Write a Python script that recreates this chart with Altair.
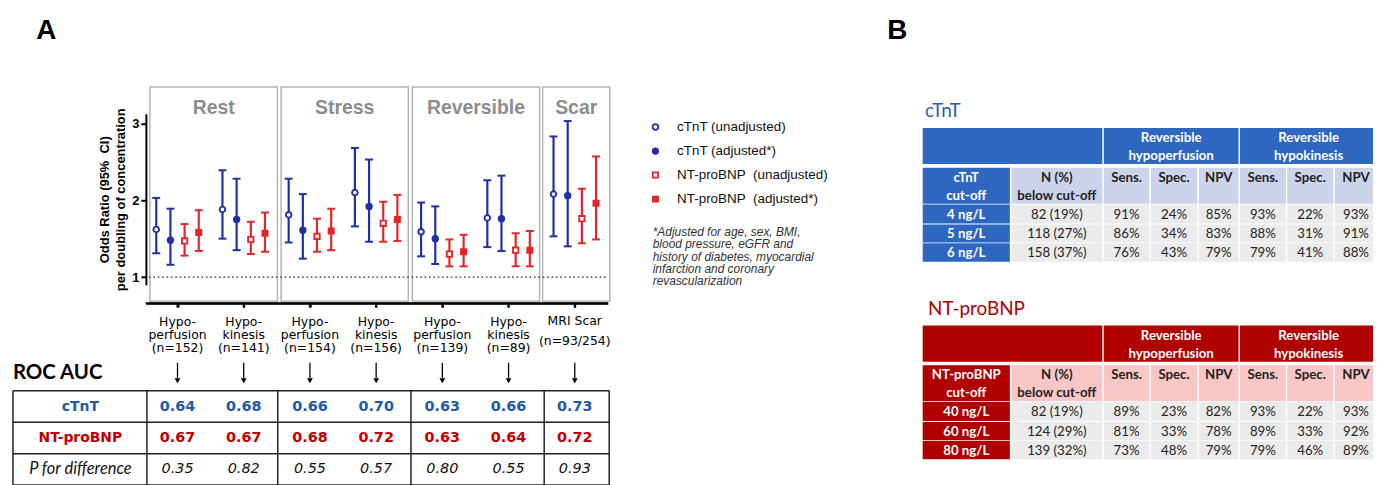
import altair as alt
import pandas as pd

# ---------------- data ----------------
group_labels = ["Hypo-\nperfusion\n(n=152)", "Hypo-\nkinesis\n(n=141)",
                "Hypo-\nperfusion\n(n=154)", "Hypo-\nkinesis\n(n=156)",
                "Hypo-\nperfusion\n(n=139)", "Hypo-\nkinesis\n(n=89)"]
scar_lines = ["MRI Scar", "(n=93/254)"]
panel_names = ["Rest", "Stress", "Reversible", "Scar"]
series_names = ["cTnT (unadjusted)", "cTnT (adjusted*)",
                "NT-proBNP\u00a0 (unadjusted)", "NT-proBNP\u00a0 (adjusted*)"]

ctnt_unadj_or = [1.62, 1.88, 1.81, 2.10, 1.59, 1.77, 2.08]
ctnt_unadj_lo = [1.31, 1.50, 1.45, 1.66, 1.27, 1.39, 1.53]
ctnt_unadj_hi = [2.03, 2.39, 2.28, 2.68, 1.97, 2.26, 2.83]
ctnt_adj_or = [1.48, 1.75, 1.61, 1.92, 1.50, 1.76, 2.06]
ctnt_adj_lo = [1.16, 1.35, 1.24, 1.46, 1.17, 1.34, 1.40]
ctnt_adj_hi = [1.89, 2.28, 2.08, 2.53, 1.92, 2.32, 3.03]
nt_unadj_or = [1.47, 1.49, 1.53, 1.70, 1.30, 1.35, 1.76]
nt_unadj_lo = [1.28, 1.30, 1.33, 1.46, 1.14, 1.14, 1.44]
nt_unadj_hi = [1.69, 1.72, 1.76, 1.98, 1.49, 1.57, 2.15]
nt_adj_or = [1.58, 1.57, 1.60, 1.75, 1.33, 1.35, 1.96]
nt_adj_lo = [1.34, 1.33, 1.35, 1.47, 1.14, 1.14, 1.49]
nt_adj_hi = [1.87, 1.84, 1.89, 2.07, 1.55, 1.60, 2.57]

roc_row_labels = ["cTnT", "NT-proBNP", "P for difference"]
roc_ctnt = [0.64, 0.68, 0.66, 0.70, 0.63, 0.66, 0.73]
roc_nt = [0.67, 0.67, 0.68, 0.72, 0.63, 0.64, 0.72]
roc_p = [0.35, 0.82, 0.55, 0.57, 0.80, 0.55, 0.93]

footnote = ("*Adjusted for age, sex, BMI,\nblood pressure, eGFR and\n"
            "history of diabetes, myocardial\ninfarction and coronary\nrevascularization")

tbl_groups = ["Reversible\nhypoperfusion", "Reversible\nhypokinesis"]
tbl_metrics = ["Sens.", "Spec.", "NPV"]
tbl_below_head = "N (%)\nbelow cut-off"

ctnt_cut_head = "cTnT\ncut-off"
ctnt_cutoffs = ["4 ng/L", "5 ng/L", "6 ng/L"]
ctnt_below = ["82 (19%)", "118 (27%)", "158 (37%)"]
ctnt_perf_sens = [91, 86, 76]
ctnt_perf_spec = [24, 34, 43]
ctnt_perf_npv = [85, 83, 79]
ctnt_kin_sens = [93, 88, 79]
ctnt_kin_spec = [22, 31, 41]
ctnt_kin_npv = [93, 91, 88]

nt_cut_head = "NT-proBNP\ncut-off"
nt_cutoffs = ["40 ng/L", "60 ng/L", "80 ng/L"]
nt_below = ["82 (19%)", "124 (29%)", "139 (32%)"]
nt_perf_sens = [89, 81, 73]
nt_perf_spec = [23, 33, 48]
nt_perf_npv = [82, 78, 79]
nt_kin_sens = [93, 89, 79]
nt_kin_spec = [22, 33, 46]
nt_kin_npv = [93, 92, 89]

# ---------------- layout / style ----------------
W, H = 1373, 477
def px(v):
    return v - 8
def py(v):
    return v - 8

BLUE = "#1f30a8"
RED = "#e2262a"
ROC_BLUE = "#2458a8"
ROC_RED = "#c00000"

U, G0 = 66.6, 178.5          # group spacing and first group centre (page px)
offsets = [-0.321, -0.107, 0.107, 0.321]
panel_edges = [(-0.417, 1.509), (1.565, 3.486), (3.547, 5.468), (5.514, 6.529)]
roc_vedges = [-2.485, -0.462, 1.514, 3.526, 5.538, 6.52]
XAXIS_Y = 303.5

xs = alt.Scale(domain=[-0.48, 6.5], range=[px(G0 - 0.48 * U), px(G0 + 6.5 * U)], nice=False, zero=False)
ys = alt.Scale(domain=[0.9, 3.125], range=[py(285.0), py(113.0)], nice=False, zero=False)

xax = alt.Axis(values=list(range(7)), labels=False, title=None, tickSize=4, tickWidth=2,
               tickColor="black", domainColor="black", domainWidth=2, grid=False,
               offset=py(XAXIS_Y) - H, zindex=1)
yax = alt.Axis(values=[1, 2, 3], title=["Odds Ratio (95%\u00a0 CI)", "per doubling of concentration"],
               titleFont="Liberation Sans", titleFontSize=13, titleFontWeight="bold", titleColor="black",
               titlePadding=4, titleLineHeight=16.5,
               labelFont="Liberation Sans", labelFontSize=13, labelFontWeight="bold", labelColor="black",
               labelPadding=2, tickSize=5, tickWidth=2, tickColor="black",
               domainColor="black", domainWidth=2, grid=False, offset=-px(146.7))

def X(f):
    return alt.X(f, type="quantitative", scale=xs, axis=xax)
def Y(f):
    return alt.Y(f, type="quantitative", scale=ys, axis=yax)

# ---------------- forest plot ----------------
series_vals = [
    (ctnt_unadj_or, ctnt_unadj_lo, ctnt_unadj_hi, BLUE),
    (ctnt_adj_or, ctnt_adj_lo, ctnt_adj_hi, BLUE),
    (nt_unadj_or, nt_unadj_lo, nt_unadj_hi, RED),
    (nt_adj_or, nt_adj_lo, nt_adj_hi, RED),
]
rows = []
for g in range(7):
    for si, (orv, lo, hi, col) in enumerate(series_vals):
        rows.append(dict(pos=g + offsets[si], series=series_names[si], OR=orv[g], lo=lo[g], hi=hi[g], col=col))
fdf = pd.DataFrame(rows)

frames_df = pd.DataFrame({"panel": panel_names,
                          "x0": [e[0] for e in panel_edges],
                          "x1": [e[1] for e in panel_edges]})
frames_df["xc"] = (frames_df["x0"] + frames_df["x1"]) / 2

frames = alt.Chart(frames_df).mark_rect(fill="white", fillOpacity=0, stroke="#b4b4b4", strokeWidth=1.5).encode(
    x=X("x0"), x2=alt.X2("x1"), y=alt.value(py(86)), y2=alt.value(py(301.5)))
frame_titles = alt.Chart(frames_df).mark_text(font="Liberation Sans", fontSize=19.5, fontWeight="bold",
                                              color="#8c8c8c", baseline="alphabetic", align="center").encode(
    x=X("xc"), y=alt.value(py(113.5)), text="panel:N")

ref_df = pd.DataFrame({"a": [-0.43], "b": [6.5], "one": [1.0]})
refline = alt.Chart(ref_df).mark_rule(color="#222", strokeWidth=1.4, strokeDash=[1.6, 2.8]).encode(
    x=X("a"), x2=alt.X2("b"), y=Y("one"))

# x-axis baseline and group ticks (drawn through the x scale)
xbase = alt.Chart(pd.DataFrame({"a": [-0.48], "b": [6.5]})).mark_rule(color="black", strokeWidth=2).encode(
    x=X("a"), x2=alt.X2("b"), y=alt.value(py(XAXIS_Y)))
xticks = alt.Chart(pd.DataFrame({"g": list(range(7))})).mark_rule(color="black", strokeWidth=2).encode(
    x=X("g"), y=alt.value(py(XAXIS_Y)), y2=alt.value(py(XAXIS_Y + 4.5)))

whisk = alt.Chart(fdf).mark_rule(strokeWidth=2.2, opacity=1).encode(
    x=X("pos"), y=Y("lo"), y2=alt.Y2("hi"), color=alt.Color("col:N", scale=None))
cap_hi = alt.Chart(fdf).mark_tick(orient="horizontal", size=8, thickness=2, opacity=1).encode(
    x=X("pos"), y=Y("hi"), color=alt.Color("col:N", scale=None))
cap_lo = alt.Chart(fdf).mark_tick(orient="horizontal", size=8, thickness=2, opacity=1).encode(
    x=X("pos"), y=Y("lo"), color=alt.Color("col:N", scale=None))

leg = alt.Legend(orient="none", legendX=644.5, legendY=111.5, title=None, direction="vertical",
                 labelFont="Liberation Sans", labelFontSize=13.5, labelColor="#111", labelOffset=15,
                 rowPadding=9.2, symbolStrokeWidth=1.8, padding=0, labelLimit=300)
points = alt.Chart(fdf).mark_point(opacity=1, fillOpacity=1, strokeWidth=1.9).encode(
    x=X("pos"), y=Y("OR"),
    shape=alt.Shape("series:N", scale=alt.Scale(domain=series_names, range=["circle", "circle", "square", "square"]), legend=leg),
    fill=alt.Fill("series:N", scale=alt.Scale(domain=series_names, range=["white", BLUE, "white", RED]), legend=leg),
    stroke=alt.Stroke("series:N", scale=alt.Scale(domain=series_names, range=[BLUE, BLUE, RED, RED]), legend=leg),
    size=alt.Size("series:N", scale=alt.Scale(domain=series_names, range=[32, 27, 44, 30]), legend=leg),
)

# multi-line texts: y is the centre of the first line
cat_df = pd.DataFrame({"g": list(range(6)), "label": group_labels})
cat_text = alt.Chart(cat_df).mark_text(font="DejaVu Sans", fontSize=12.5, lineBreak="\n", lineHeight=13.3,
                                       baseline="middle", align="center", color="#000").encode(
    x=X("g"), y=alt.value(py(322.5)), text="label:N")
scar1 = alt.Chart(pd.DataFrame({"g": [6], "t": [scar_lines[0]]})).mark_text(
    font="DejaVu Sans", fontSize=12.5, baseline="middle", align="center", color="#000").encode(
    x=X("g"), y=alt.value(py(321)), text="t:N")
scar2 = alt.Chart(pd.DataFrame({"g": [6], "t": [scar_lines[1]]})).mark_text(
    font="DejaVu Sans", fontSize=12.5, baseline="middle", align="center", color="#000").encode(
    x=X("g"), y=alt.value(py(342)), text="t:N")

arr_df = pd.DataFrame({"g": list(range(7))})
arr_line = alt.Chart(arr_df).mark_rule(color="black", strokeWidth=1.3).encode(
    x=X("g"), y=alt.value(py(363.5)), y2=alt.value(py(379)))
arr_head = alt.Chart(arr_df).mark_point(shape="triangle-down", filled=True, size=34, color="black", opacity=1).encode(
    x=X("g"), y=alt.value(py(381.5)))

forest = alt.layer(frames, frame_titles, refline, xbase, xticks, whisk, cap_hi, cap_lo, points,
                   cat_text, scar1, scar2, arr_line, arr_head)

# ---------------- ROC AUC table ----------------
ROW_H = 31.6
ry = alt.Scale(domain=[0, 3], range=[py(391.7), py(391.7 + 3 * ROW_H)], nice=False, zero=False)
RX = lambda f: alt.X(f, type="quantitative", scale=xs, axis=None)
RY = lambda f: alt.Y(f, type="quantitative", scale=ry, axis=None)

hl = alt.Chart(pd.DataFrame({"r": [0, 1, 2, 3]})).mark_rule(color="#222", strokeWidth=1.5).encode(
    y=RY("r"), x=alt.value(px(13)), x2=alt.value(px(612.7)))
vl = alt.Chart(pd.DataFrame({"e": roc_vedges, "r0": 0, "r1": 3})).mark_rule(color="#222", strokeWidth=1.5).encode(
    x=RX("e"), y=RY("r0"), y2=alt.Y2("r1"))
roc_rows = []
for g in range(7):
    roc_rows.append(dict(g=g, r=0.5, t=f"{roc_ctnt[g]:.2f}", c=ROC_BLUE))
    roc_rows.append(dict(g=g, r=1.5, t=f"{roc_nt[g]:.2f}", c=ROC_RED))
roc_df = pd.DataFrame(roc_rows)
roc_vals = alt.Chart(roc_df).mark_text(font="DejaVu Sans", fontSize=14.5, fontWeight="bold",
                                       baseline="middle", align="center").encode(
    x=RX("g"), y=RY("r"), text="t:N", color=alt.Color("c:N", scale=None))
p_df = pd.DataFrame({"g": list(range(7)), "r": 2.5, "t": [f"{v:.2f}" for v in roc_p]})
roc_p_txt = alt.Chart(p_df).mark_text(font="DejaVu Sans", fontSize=14.5, fontStyle="italic",
                                      baseline="middle", align="center", color="#111").encode(
    x=RX("g"), y=RY("r"), text="t:N")
lab_df = pd.DataFrame({"r": [0.5, 1.5], "t": roc_row_labels[:2], "c": [ROC_BLUE, ROC_RED]})
roc_labs = alt.Chart(lab_df).mark_text(font="DejaVu Sans", fontSize=14, fontWeight="bold",
                                       baseline="middle", align="center").encode(
    x=alt.value(px(80.8)), y=RY("r"), text="t:N", color=alt.Color("c:N", scale=None))
roc_plab = alt.Chart(pd.DataFrame({"r": [2.5], "t": [roc_row_labels[2]]})).mark_text(
    font="Lato", fontSize=16.5, fontStyle="italic", baseline="middle", align="center", color="#111").encode(
    x=alt.value(px(80.8)), y=RY("r"), text="t:N")
roc = alt.layer(hl, vl, roc_vals, roc_p_txt, roc_labs, roc_plab)

# ---------------- tables B ----------------
col_edges = [0, 89.2, 182.2, 229.4, 277.7, 319.2, 366.7, 414.4, 458.7]
row_tops = [0, 40, 77, 97, 116]
row_bots = [36.3, 76.2, 96, 115.2, 134.6]
GAP = 0.75
LH = 18.3
TBL_LEFT = 927.3
GRAY = "#ebebeb"


def table_block(top, title, title_color, title_x, dark, light, cut_head, cutoffs, below, cols):
    cells, texts = [], []

    def cell(c0, c1, r, fill):
        cells.append(dict(x0=col_edges[c0] + GAP, x1=col_edges[c1 + 1] - GAP,
                          y0=row_tops[r], y1=row_bots[r], fill=fill))

    def txt(c0, c1, r, s, color, bold, dy):
        texts.append(dict(x=(col_edges[c0] + col_edges[c1 + 1]) / 2,
                          y=(row_tops[r] + row_bots[r]) / 2 + dy, t=s, c=color, b=bold))

    head_dy = 1.1 - LH / 2   # centre of the first header line
    cell(0, 1, 0, dark)
    cell(2, 4, 0, dark)
    cell(5, 7, 0, dark)
    txt(2, 4, 0, tbl_groups[0], "white", True, head_dy)
    txt(5, 7, 0, tbl_groups[1], "white", True, head_dy)
    cell(0, 0, 1, dark)
    txt(0, 0, 1, cut_head, "white", True, head_dy)
    cell(1, 1, 1, light)
    txt(1, 1, 1, tbl_below_head, "#222", True, head_dy)
    for k in range(6):
        cell(2 + k, 2 + k, 1, light)
        txt(2 + k, 2 + k, 1, tbl_metrics[k % 3], "#222", True, head_dy)
    for i in range(3):
        r = 2 + i
        cell(0, 0, r, dark)
        txt(0, 0, r, cutoffs[i], "white", True, 0.6)
        cell(1, 1, r, GRAY)
        txt(1, 1, r, below[i], "#222", False, 0.6)
        for k in range(6):
            cell(2 + k, 2 + k, r, GRAY)
            txt(2 + k, 2 + k, r, f"{cols[k][i]}%", "#222", False, 0.6)

    cdf = pd.DataFrame(cells)
    tdf = pd.DataFrame(texts)
    txs = alt.Scale(domain=[0, 500], range=[px(TBL_LEFT), px(TBL_LEFT + 500)], nice=False, zero=False)
    tys = alt.Scale(domain=[0, 200], range=[py(top), py(top + 200)], nice=False, zero=False)
    TX = lambda f: alt.X(f, type="quantitative", scale=txs, axis=None)
    TY = lambda f: alt.Y(f, type="quantitative", scale=tys, axis=None)
    rects = alt.Chart(cdf).mark_rect(opacity=1).encode(
        x=TX("x0"), x2=alt.X2("x1"), y=TY("y0"), y2=alt.Y2("y1"), color=alt.Color("fill:N", scale=None))
    tb = alt.Chart(tdf[tdf.b]).mark_text(font="Lato", fontSize=13.3, fontWeight="bold", lineBreak="\n",
                                         lineHeight=LH, baseline="middle", align="center").encode(
        x=TX("x"), y=TY("y"), text="t:N", color=alt.Color("c:N", scale=None))
    tn = alt.Chart(tdf[~tdf.b]).mark_text(font="Lato", fontSize=13.3, baseline="middle", align="center").encode(
        x=TX("x"), y=TY("y"), text="t:N", color=alt.Color("c:N", scale=None))
    ttl = alt.Chart(pd.DataFrame({"t": [title]})).mark_text(
        font="Lato", fontSize=19, color=title_color, align="left", baseline="alphabetic").encode(
        x=alt.value(px(title_x)), y=alt.value(py(top - 10.8)), text="t:N")
    return alt.layer(rects, tb, tn, ttl)


tbl_ctnt = table_block(127.3, "cTnT", "#2a5eb0", 930.5, "#2e67bf", "#ccd3eb",
                       ctnt_cut_head, ctnt_cutoffs, ctnt_below,
                       [ctnt_perf_sens, ctnt_perf_spec, ctnt_perf_npv, ctnt_kin_sens, ctnt_kin_spec, ctnt_kin_npv])
tbl_nt = table_block(326.0, "NT-proBNP", "#b00000", 933.5, "#b00000", "#f9c6c6",
                     nt_cut_head, nt_cutoffs, nt_below,
                     [nt_perf_sens, nt_perf_spec, nt_perf_npv, nt_kin_sens, nt_kin_spec, nt_kin_npv])

# ---------------- annotations ----------------
def note(text, x, y, **kw):
    return alt.Chart(pd.DataFrame({"t": [text]})).mark_text(**kw).encode(
        x=alt.value(px(x)), y=alt.value(py(y)), text="t:N")

lab_a = note("A", 36.5, 37.5, font="Liberation Sans", fontSize=28, fontWeight="bold", color="black",
             align="left", baseline="alphabetic")
lab_b = note("B", 892.5, 37.5, font="Liberation Sans", fontSize=28, fontWeight="bold", color="black",
             align="left", baseline="alphabetic")
roc_title = note("ROC AUC", 13, 374, font="Lato", fontSize=20.5, fontWeight="bold", color="black",
                 align="left", baseline="middle")
foot = note(footnote, 656.5, 231.7, font="Liberation Sans", fontSize=12, fontStyle="italic", color="#333",
            align="left", baseline="middle", lineBreak="\n", lineHeight=12.5)

chart = alt.layer(forest, roc, tbl_ctnt, tbl_nt, lab_a, lab_b, roc_title, foot).resolve_scale(
    x="independent", y="independent"
).properties(
    width=W, height=H, padding=0, autosize=alt.AutoSizeParams(type="none"), background="white"
).configure_view(stroke=None)

chart.save("out.html", embed_options={"renderer": "svg", "actions": False})
